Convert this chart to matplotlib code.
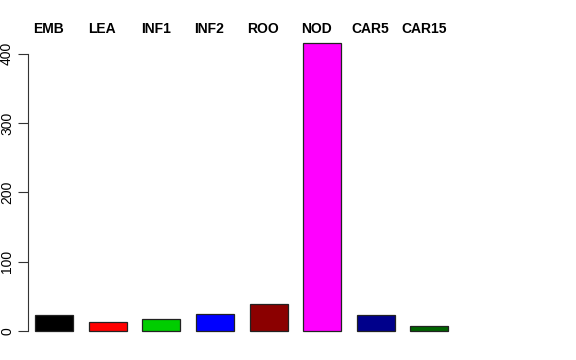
import numpy as np
import matplotlib.pyplot as plt
import matplotlib.transforms as mtransforms

# data
groups = ["EMB", "LEA", "INF1", "INF2", "ROO", "NOD", "CAR5", "CAR15"]
counts = [23, 12.5, 17, 25, 38.5, 415.5, 23, 7]
colors = ["#000000", "#FF0000", "#00CD00", "#0000FF", "#8B0000",
          "#FF00FF", "#00008B", "#006400"]

plt.rcParams["font.family"] = ["Liberation Sans", "DejaVu Sans"]

W, H = 576, 360
fig = plt.figure(figsize=(W / 100, H / 100), dpi=100)

# plot region in pixels (R-style barplot layout)
left_px, right_px, top_px, bot_px = 28, 548, 40, 340
ax = fig.add_axes([left_px / W, 1 - bot_px / H,
                   (right_px - left_px) / W, (bot_px - top_px) / H])

# R barplot positions: width 1, space 0.2
lefts = 0.2 + 1.2 * np.arange(len(groups))
centers = lefts + 0.5
ax.bar(lefts, counts, width=0.85, align="edge", color=colors,
       edgecolor="#222222", linewidth=0.9)

unit = 44.7  # px per x unit
ax.set_xlim(0.2 - 7 / unit, 0.2 - 7 / unit + (right_px - left_px) / unit)
ax.set_ylim(-(bot_px - 331) / 0.693, (331 - top_px) / 0.693)

for s in ["top", "right", "bottom"]:
    ax.spines[s].set_visible(False)
ax.spines["left"].set_bounds(0, 400)
ax.spines["left"].set_color("#333333")
ax.set_xticks([])
ax.set_yticks([0, 100, 200, 300, 400])
ax.tick_params(axis="y", length=7, width=0.8, color="#333333",
               labelsize=10, pad=3)
for lab in ax.get_yticklabels():
    lab.set_rotation(90)
    lab.set_va("center")

# group names along the top
trans = mtransforms.blended_transform_factory(ax.transData, fig.transFigure)
for c, g in zip(centers, groups):
    ax.text(c - 0.2, 1 - 29 / H, g, transform=trans, ha="center",
            va="center", fontsize=10, fontweight="bold")

fig.savefig("out.png", dpi=100)
